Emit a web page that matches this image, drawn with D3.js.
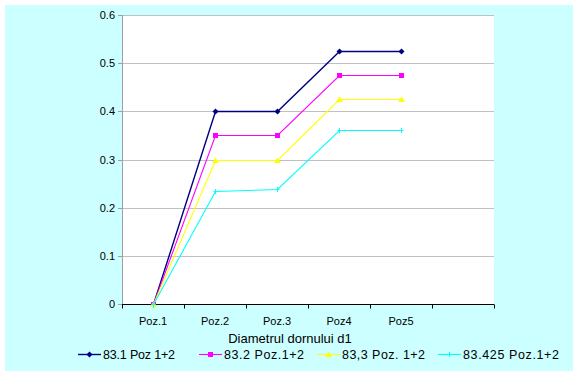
<!DOCTYPE html>
<html>
<head>
<meta charset="utf-8">
<script src="https://cdn.jsdelivr.net/npm/d3@7"></script>
<style>
  body { margin: 0; background: #fff; }
  svg { display: block; font-family: Arial, "Liberation Sans", sans-serif; }
</style>
</head>
<body>
<svg id="chart" width="578" height="375"></svg>
<script>
// categories (6th slot is empty in the original)
const categories = ["Poz.1", "Poz.2", "Poz.3", "Poz4", "Poz5", ""];
const yTicks = [0, 0.1, 0.2, 0.3, 0.4, 0.5, 0.6];

const seriesNames = ["83.1 Poz 1+2", "83.2 Poz.1+2", "83,3 Poz. 1+2", "83.425 Poz.1+2"];
const seriesColors = ["#000080", "#FF00FF", "#FFFF00", "#00FFFF"];
const seriesMarkers = ["diamond", "square", "triangle", "cross"];

const s831 = [0, 0.4, 0.4, 0.525, 0.525];
const s832 = [0, 0.35, 0.35, 0.475, 0.475];
const s833 = [0, 0.3, 0.3, 0.425, 0.425];
const s83425 = [0, 0.235, 0.238, 0.362, 0.362];
const seriesValues = [s831, s832, s833, s83425];

const svg = d3.select("#chart");

// chart area background
svg.append("rect")
    .attr("x", 5).attr("y", 5)
    .attr("width", 568).attr("height", 366)
    .attr("fill", "#CCFFFF");

const plot = { left: 122, top: 15, right: 494, bottom: 304 };

svg.append("rect")
    .attr("x", plot.left).attr("y", plot.top)
    .attr("width", plot.right - plot.left).attr("height", plot.bottom - plot.top)
    .attr("fill", "#fff");

const x = d3.scaleBand()
    .domain(categories.map((c, i) => i))
    .range([plot.left, plot.right]);

const y = d3.scaleLinear()
    .domain([0, 0.6])
    .range([plot.bottom, plot.top]);

const py = v => Math.round(y(v)) + 0.5;
const px = i => Math.round(x(i) + x.bandwidth() / 2) + 0.5;

// gridlines
svg.append("g")
    .selectAll("line")
    .data(yTicks.slice(1))
    .join("line")
    .attr("x1", plot.left).attr("x2", plot.right)
    .attr("y1", py).attr("y2", py)
    .attr("stroke", "#C0C0C0");

// y axis
const yAxisG = svg.append("g");
yAxisG.append("line")
    .attr("x1", plot.left + 0.5).attr("x2", plot.left + 0.5)
    .attr("y1", plot.top).attr("y2", plot.bottom)
    .attr("stroke", "#A0A0A0");
yAxisG.selectAll("line.tick")
    .data(yTicks)
    .join("line")
    .attr("class", "tick")
    .attr("x1", plot.left - 4).attr("x2", plot.left)
    .attr("y1", py).attr("y2", py)
    .attr("stroke", "#A0A0A0");
yAxisG.selectAll("text")
    .data(yTicks)
    .join("text")
    .attr("x", plot.left - 7)
    .attr("y", d => y(d) + 4)
    .attr("text-anchor", "end")
    .attr("font-size", 11)
    .text(d => d === 0 ? "0" : d3.format(".1f")(d));

// x axis
const xAxisG = svg.append("g")
    .attr("transform", `translate(0,${plot.bottom + 0.5})`);
xAxisG.append("line")
    .attr("x1", plot.left).attr("x2", plot.right)
    .attr("stroke", "#000");
xAxisG.selectAll("line.tick")
    .data(d3.range(categories.length + 1))
    .join("line")
    .attr("class", "tick")
    .attr("x1", i => Math.round(plot.left + i * x.step()) + 0.5)
    .attr("x2", i => Math.round(plot.left + i * x.step()) + 0.5)
    .attr("y1", 0).attr("y2", 4)
    .attr("stroke", "#000");
xAxisG.selectAll("text")
    .data(categories)
    .join("text")
    .attr("x", (c, i) => x(i) + x.bandwidth() / 2)
    .attr("y", 20)
    .attr("text-anchor", "middle")
    .attr("font-size", 11)
    .text(c => c);

// axis title
svg.append("text")
    .attr("x", 290).attr("y", 343)
    .attr("text-anchor", "middle")
    .attr("font-size", 13)
    .text("Diametrul dornului d1");

function drawMarker(g, type, color, cx, cy) {
    if (type === "diamond") {
        g.append("path")
            .attr("d", `M${cx},${cy - 3}L${cx + 3},${cy}L${cx},${cy + 3}L${cx - 3},${cy}Z`)
            .attr("fill", color);
    } else if (type === "square") {
        g.append("rect")
            .attr("x", cx - 2.5).attr("y", cy - 2.5)
            .attr("width", 5).attr("height", 5)
            .attr("fill", color);
    } else if (type === "triangle") {
        g.append("path")
            .attr("d", `M${cx},${cy - 3}L${cx + 3.5},${cy + 2.5}L${cx - 3.5},${cy + 2.5}Z`)
            .attr("fill", color);
    } else {
        g.append("path")
            .attr("d", `M${cx - 2},${cy}H${cx + 2}M${cx},${cy - 2.5}V${cy + 2.5}`)
            .attr("stroke", color).attr("stroke-width", 1);
    }
}

// series lines
const line = d3.line()
    .x((d, i) => px(i))
    .y(d => py(d));

seriesValues.forEach((vals, s) => {
    const g = svg.append("g");
    g.append("path")
        .datum(vals)
        .attr("d", line)
        .attr("fill", "none")
        .attr("stroke", seriesColors[s])
        .attr("stroke-width", s === 0 ? 1.4 : 1.1);
    vals.forEach((v, i) => {
        drawMarker(g, seriesMarkers[s], seriesColors[s], px(i), py(v));
    });
});

// legend
const legendX = [78, 199, 317, 438];
const legendY = 354;
seriesNames.forEach((name, s) => {
    const g = svg.append("g");
    g.append("line")
        .attr("x1", legendX[s]).attr("x2", legendX[s] + 23)
        .attr("y1", legendY + 0.5).attr("y2", legendY + 0.5)
        .attr("stroke", seriesColors[s]).attr("stroke-width", s === 0 ? 1.4 : 1.1);
    drawMarker(g, seriesMarkers[s], seriesColors[s], legendX[s] + 11.5, legendY + 0.5);
    g.append("text")
        .attr("x", legendX[s] + 25).attr("y", legendY + 5)
        .attr("font-size", 12.5)
        .attr("textLength", [72, 80, 83, 96][s])
        .text(name);
});
</script>
</body>
</html>
